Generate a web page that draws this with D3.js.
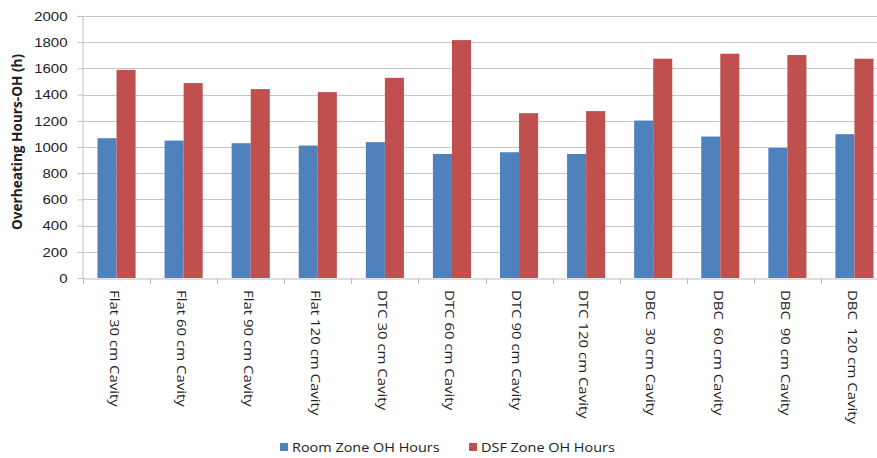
<!DOCTYPE html>
<html>
<head>
<meta charset="utf-8">
<script src="https://cdn.jsdelivr.net/npm/d3@7"></script>
<style>
  html, body { margin: 0; padding: 0; background: #fff; }
  svg { display: block; font-family: "Open Sans", "Liberation Sans", Arial, sans-serif; }
</style>
</head>
<body>
<svg id="chart" width="877" height="458"></svg>
<script>
// Cavity configurations along the x axis
const categories = [
  "Flat 30 cm Cavity", "Flat 60 cm Cavity", "Flat 90 cm Cavity", "Flat 120 cm Cavity",
  "DTC 30 cm Cavity", "DTC 60 cm Cavity", "DTC 90 cm Cavity", "DTC 120 cm Cavity",
  "DBC  30 cm Cavity", "DBC  60 cm Cavity", "DBC  90 cm Cavity", "DBC  120 cm Cavity"
];
const seriesNames = ["Room Zone OH Hours", "DSF Zone OH Hours"];
const roomZoneHours = [1067, 1049, 1029, 1011, 1037, 947, 960, 947, 1202, 1080, 993, 1098];
const dsfZoneHours  = [1589, 1488, 1442, 1419, 1528, 1816, 1258, 1274, 1674, 1712, 1702, 1674];
const yTicks = [0, 200, 400, 600, 800, 1000, 1200, 1400, 1600, 1800, 2000];
const colors = ["#4F81BD", "#C0504D"];

const svg = d3.select("#chart");
const plotLeft = 83, plotRight = 888, plotTop = 16, plotBottom = 278;
const fontSize = 13.5, stretch = 1.11;   // text is slightly widened along its run

const x0 = d3.scaleBand().domain(categories).range([plotLeft, plotRight]).padding(0);
const x1 = d3.scaleBand().domain(seriesNames).range([0, x0.bandwidth()])
  .paddingInner(0).paddingOuter(0.76);
const y = d3.scaleLinear().domain([0, 2000]).range([plotBottom, plotTop]);

// horizontal gridlines
svg.append("g").selectAll("line").data(yTicks.filter(t => t > 0)).join("line")
  .attr("x1", plotLeft).attr("x2", 877)
  .attr("y1", d => Math.round(y(d)) + 0.5).attr("y2", d => Math.round(y(d)) + 0.5)
  .attr("stroke", "#C6C6C6").attr("stroke-width", 1.2);

// bars
const rows = categories.map((c, i) => ({ cat: c, vals: [roomZoneHours[i], dsfZoneHours[i]] }));
svg.append("g").selectAll("g").data(rows).join("g")
  .attr("transform", d => `translate(${x0(d.cat)},0)`)
  .selectAll("rect").data(d => d.vals.map((v, k) => ({ name: seriesNames[k], v, k })))
  .join("rect")
  .attr("x", d => x1(d.name))
  .attr("width", x1.bandwidth())
  .attr("y", d => y(d.v))
  .attr("height", d => y(0) - y(d.v))
  .attr("fill", d => colors[d.k]);

// y axis
const yAxis = d3.axisLeft(y).tickValues(yTicks).tickSize(5).tickFormat(d3.format("d"));
const gy = svg.append("g").attr("transform", `translate(${plotLeft - 0.5},0)`).call(yAxis);
gy.select(".domain").attr("stroke", "#BDBDBD");
gy.selectAll(".tick line").attr("stroke", "#BDBDBD");
gy.selectAll(".tick text")
  .attr("x", null)
  .attr("transform", `translate(-15,0) scale(${stretch},1)`)
  .attr("font-size", fontSize).attr("fill", "#222");

// x axis
const xAxis = d3.axisBottom(x0).tickSize(0).tickFormat("");
const gx = svg.append("g").attr("transform", `translate(0,${plotBottom + 0.5})`).call(xAxis);
gx.select(".domain").attr("stroke", "#BDBDBD");
// category separators
svg.append("g").selectAll("line").data(categories).join("line")
  .attr("x1", d => Math.round(x0(d)) + 0.5).attr("x2", d => Math.round(x0(d)) + 0.5)
  .attr("y1", plotBottom).attr("y2", plotBottom + 6)
  .attr("stroke", "#BDBDBD");

// rotated category labels
svg.append("g").selectAll("text").data(categories).join("text")
  .attr("transform", d => `translate(${x0(d) + x0.bandwidth() / 2 - 2},290) rotate(90) scale(${stretch},1)`)
  .attr("dy", "0.35em")
  .attr("text-anchor", "start")
  .attr("font-size", fontSize)
  .attr("fill", "#222")
  .style("white-space", "pre")
  .text(d => d);

// y axis title
svg.append("text")
  .attr("transform", `translate(22,${(plotTop + plotBottom) / 2 - 5}) rotate(-90)`)
  .attr("text-anchor", "middle")
  .attr("font-size", 13.6)
  .attr("font-weight", "bold")
  .attr("fill", "#222")
  .text("Overheating Hours-OH (h)");

// legend
const legendItems = [
  { name: seriesNames[0], color: colors[0], x: 280 },
  { name: seriesNames[1], color: colors[1], x: 469 }
];
const lg = svg.append("g").selectAll("g").data(legendItems).join("g")
  .attr("transform", d => `translate(${d.x},443)`);
lg.append("rect").attr("width", 8).attr("height", 8).attr("fill", d => d.color);
lg.append("text").attr("transform", "translate(12,4) scale(1.07,1)").attr("dy", "0.35em")
  .attr("font-size", fontSize).attr("fill", "#222").text(d => d.name);
</script>
</body>
</html>
